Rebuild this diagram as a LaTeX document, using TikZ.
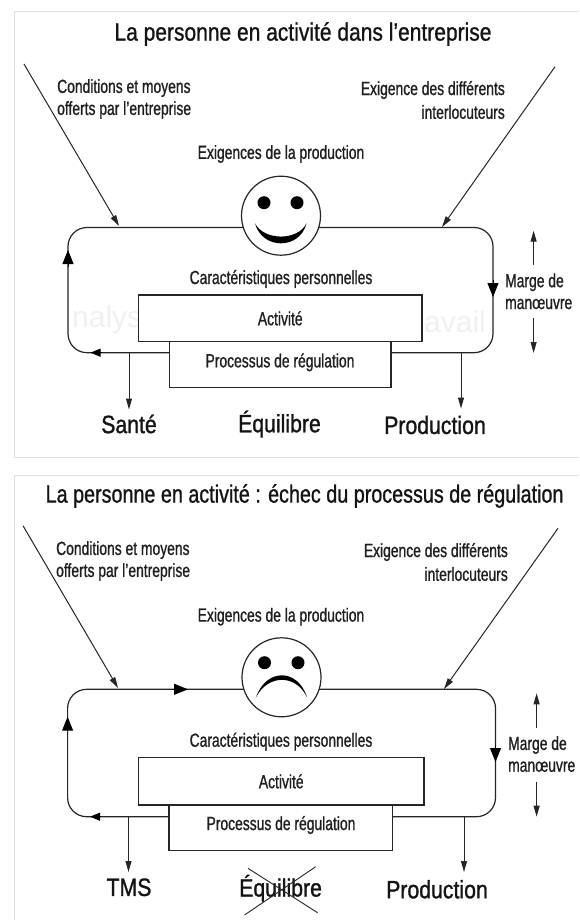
\documentclass[tikz,border=0pt]{standalone}
\usepackage{fontspec}
\setmainfont{Liberation Sans}
\newfontfamily\narrowfont[FakeStretch=0.73,FakeBold=0.9]{Liberation Sans}
\newfontfamily\titlefont[FakeStretch=0.84,FakeBold=0.9]{Liberation Sans}
\newfontfamily\titlenarrow[FakeStretch=0.79,FakeBold=0.9]{Liberation Sans}
\newfontfamily\outfont[FakeStretch=0.85,FakeBold=1.1]{Liberation Sans}
\usetikzlibrary{arrows.meta}
\tikzset{
  ink/.style={draw=black!85,line width=1.2pt},
  thinarrow/.style={draw=black!85,line width=1pt,-{Triangle[length=11pt,width=6pt]}},
  looparrow/.style={draw=black,line width=1pt,-{Triangle[length=14pt,width=11pt]}},
  smalltext/.style={font=\narrowfont\fontsize{19}{23}\selectfont,text=black!88,inner sep=0pt},
  bigtext/.style={font=\titlefont\fontsize{25}{29}\selectfont,text=black!92,inner sep=0pt},
  bigtextb/.style={font=\titlenarrow\fontsize{25}{29}\selectfont,text=black!92,inner sep=0pt},
  outtext/.style={font=\outfont\fontsize{25}{29}\selectfont,text=black!92,inner sep=0pt},
  boxnode/.style={ink,fill=white,inner sep=0pt},
  facenode/.style={circle,ink,fill=white,inner sep=0pt,minimum size=79pt},
  eye/.style={circle,fill=black,inner sep=0pt,minimum size=13pt},
  ghost/.style={font=\fontsize{30}{30}\selectfont,text=black!6,inner sep=0pt},
  framing/.style={draw=black!12,line width=1pt}
}
\begin{document}
\begin{tikzpicture}[x=1pt,y=-1pt]
\useasboundingbox (0,0) rectangle (579,920);
\fill[white] (0,0) rectangle (579,920);
% frames
\draw[framing] (579,12) -- (14,12) -- (14,457) -- (579,457);
\draw[framing] (579,475) -- (14,475) -- (14,920);

% ===== panel 1 =====
\node[bigtext] (t1) at (303,34) {La personne en activité dans l’entreprise};
\node[ghost,anchor=west] (g1) at (72,320) {nalys};
\node[ghost,anchor=west] (g2) at (424,322) {avail};
\node[smalltext,anchor=west] (c1) at (57,88) {Conditions et moyens};
\node[smalltext,anchor=west] (c2) at (57,110) {offerts par l’entreprise};
\node[smalltext,anchor=east] (e1) at (505,90) {Exigence des différents};
\node[smalltext,anchor=east] (e2) at (505,112) {interlocuteurs};
\node[smalltext] (p1) at (281,154) {Exigences de la production};
\draw[ink,rounded corners=19pt] (68,227.5) rectangle (493,352.7);
\coordinate (a1s) at (24,64);
\coordinate (a1e) at (119,226);
\coordinate (a2s) at (555,66.7);
\coordinate (a2e) at (442,227);
\draw[thinarrow] (a1s) -- (a1e);
\draw[thinarrow] (a2s) -- (a2e);
\node[facenode] (f1) at (281,215.7) {};
\node[eye] (f1l) at (264,202.7) {};
\node[eye] (f1r) at (297,202.7) {};
\fill[black] (255,223.3) .. controls (262,250) and (300,250) .. (306.5,223.3)
  .. controls (298,241) and (264,241) .. (255,223.3) -- cycle;
\node[smalltext] (k1) at (281,279) {Caractéristiques personnelles};
\node[boxnode,minimum width=283.5pt,minimum height=46.7pt] (act1) at (280.25,318.35) {};
\node[boxnode,minimum width=221.5pt,minimum height=45.6pt] (pro1) at (280.25,364.5) {};
\node[smalltext] at (act1.center) {Activité};
\node[smalltext] at (280,362.3) {Processus de régulation};
\coordinate (u1a) at (68,267); \coordinate (u1b) at (68,250);
\draw[looparrow] (u1a) -- (u1b);
\coordinate (d1a) at (493,280); \coordinate (d1b) at (493,297);
\draw[looparrow] (d1a) -- (d1b);
\coordinate (l1a) at (102,352.7); \coordinate (l1b) at (90.5,352.7);
\draw[draw=black,line width=1pt,-{Triangle[length=10pt,width=8pt]}] (l1a) -- (l1b);
\coordinate (o1a) at (129,352.7);
\coordinate (o1b) at (461,352.7);
\node[outtext] (s1) at (129,424) {Santé};
\node[outtext] (q1) at (279.5,424) {Équilibre};
\node[outtext] (r1) at (435,425) {Production};
\coordinate (s1t) at (129,409.5);
\coordinate (r1t) at (461,408.5);
\draw[thinarrow] (o1a) -- (s1t);
\draw[thinarrow] (o1b) -- (r1t);
\node[smalltext,anchor=west] (m1) at (505,282.3) {Marge de};
\node[smalltext,anchor=west] (m2) at (505,304) {manœuvre};
\coordinate (v1a) at (533.6,265); \coordinate (v1b) at (533.6,230.7);
\coordinate (v1c) at (533.6,318); \coordinate (v1d) at (533.6,353);
\draw[thinarrow] (v1a) -- (v1b);
\draw[thinarrow] (v1c) -- (v1d);

% ===== panel 2 =====
\node[bigtextb] (t2) at (304.6,496) {La personne en activité : échec du processus de régulation};
\node[smalltext,anchor=west] (c3) at (56,550) {Conditions et moyens};
\node[smalltext,anchor=west] (c4) at (56,572) {offerts par l’entreprise};
\node[smalltext,anchor=east] (e3) at (508,552) {Exigence des différents};
\node[smalltext,anchor=east] (e4) at (508,574) {interlocuteurs};
\node[smalltext] (p2) at (281,616.7) {Exigences de la production};
\draw[ink,rounded corners=19pt] (67.6,689.3) rectangle (495.5,816.7);
\coordinate (b1s) at (23,525.7);
\coordinate (b1e) at (118,688);
\coordinate (b2s) at (558,528.3);
\coordinate (b2e) at (444,689);
\draw[thinarrow] (b1s) -- (b1e);
\draw[thinarrow] (b2s) -- (b2e);
\node[facenode] (f2) at (281.5,677.3) {};
\node[eye] (f2l) at (264.5,662.7) {};
\node[eye] (f2r) at (298,662.7) {};
\fill[black] (256,697.3) .. controls (266,668) and (298,668) .. (307,697.3)
  .. controls (296,674) and (268,674) .. (256,697.3) -- cycle;
\node[smalltext] (k2) at (281,741.7) {Caractéristiques personnelles};
\node[boxnode,minimum width=285.5pt,minimum height=47.3pt] (act2) at (281.25,781.35) {};
\node[boxnode,minimum width=223.5pt,minimum height=45.7pt] (pro2) at (280.75,827.85) {};
\node[smalltext] at (act2.center) {Activité};
\node[smalltext] at (281,825) {Processus de régulation};
\coordinate (t2a) at (172,689.3); \coordinate (t2b) at (188,689.3);
\draw[looparrow] (t2a) -- (t2b);
\coordinate (u2a) at (67.6,730); \coordinate (u2b) at (67.6,716.7);
\draw[looparrow] (u2a) -- (u2b);
\coordinate (d2a) at (495.5,745); \coordinate (d2b) at (495.5,762);
\draw[looparrow] (d2a) -- (d2b);
\coordinate (l2a) at (101,816.7); \coordinate (l2b) at (90,816.7);
\draw[draw=black,line width=1pt,-{Triangle[length=10pt,width=8pt]}] (l2a) -- (l2b);
\coordinate (o2a) at (128.5,816.7);
\coordinate (o2b) at (464,816.7);
\node[outtext] (s2) at (129,887.3) {TMS};
\node[outtext] (q2) at (280.6,888.3) {Équilibre};
\node[outtext] (r2) at (437,889.3) {Production};
\coordinate (s2t) at (128.5,872);
\coordinate (r2t) at (464,872);
\draw[thinarrow] (o2a) -- (s2t);
\draw[thinarrow] (o2b) -- (r2t);
\coordinate (x1a) at (315.7,866.7); \coordinate (x1b) at (244.5,915);
\coordinate (x2a) at (248,868.3); \coordinate (x2b) at (317.6,912.7);
\draw[draw=black!85,line width=0.9pt] (x1a) -- (x1b);
\draw[draw=black!85,line width=0.9pt] (x2a) -- (x2b);
\node[smalltext,anchor=west] (m3) at (508,745) {Marge de};
\node[smalltext,anchor=west] (m4) at (508,766.7) {manœuvre};
\coordinate (v2a) at (536.6,728.3); \coordinate (v2b) at (536.6,693.3);
\coordinate (v2c) at (536.6,781.7); \coordinate (v2d) at (536.6,816.7);
\draw[thinarrow] (v2a) -- (v2b);
\draw[thinarrow] (v2c) -- (v2d);
\end{tikzpicture}
\end{document}
